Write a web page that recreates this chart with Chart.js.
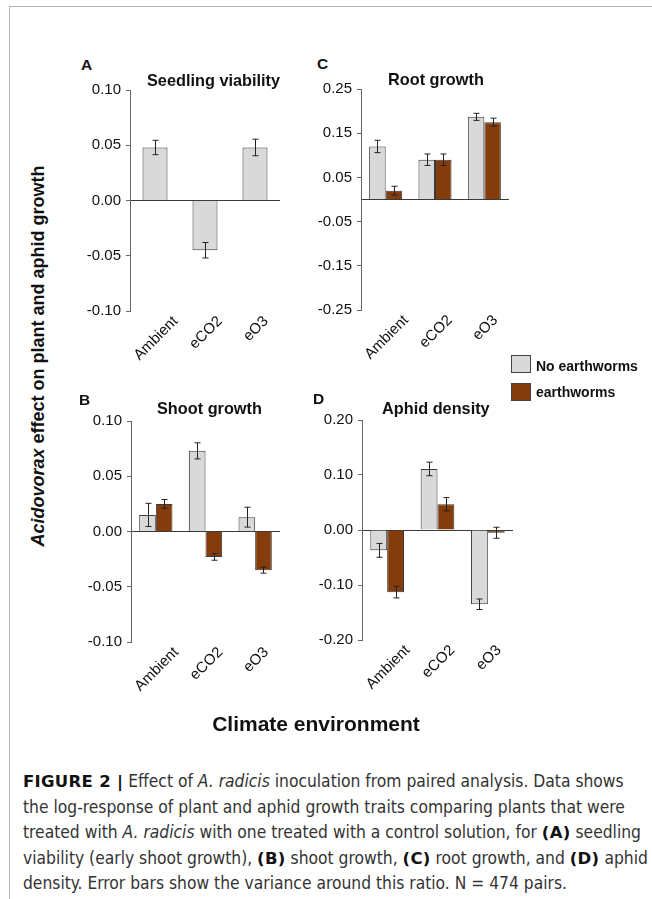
<!DOCTYPE html>
<html>
<head>
<meta charset="utf-8">
<script src="https://cdn.jsdelivr.net/npm/chart.js@4.4.0/dist/chart.umd.min.js"></script>
<style>
body{margin:0;width:652px;height:899px;position:relative;background:#fff;overflow:hidden;
  font-family:"Liberation Sans",Arial,sans-serif;color:#111}
.frame{position:absolute;left:9px;top:6px;width:700px;height:950px;border-left:1.5px solid #b4b4b4;border-top:1.5px solid #b4b4b4}
canvas{position:absolute}
.t{position:absolute;font-weight:bold;white-space:nowrap;line-height:1}
.box{position:absolute;width:18px;height:16px;border:1px solid #444}
.cap{position:absolute;left:23px;top:769px;font-family:"DejaVu Sans Condensed","Liberation Sans",sans-serif;
  font-size:17.3px;line-height:25.5px;color:#333;white-space:nowrap}
.cap b{font-family:"DejaVu Sans",sans-serif;font-size:16.5px;color:#111;letter-spacing:0.3px}
</style>
</head>
<body>
<div class="frame"></div>

<canvas id="cA"></canvas>
<canvas id="cB"></canvas>
<canvas id="cC"></canvas>
<canvas id="cD"></canvas>

<div class="t" style="left:81px;top:57px;font-size:15.5px">A</div>
<div class="t" style="left:317px;top:56px;font-size:15.5px">C</div>
<div class="t" style="left:79px;top:392px;font-size:15.5px">B</div>
<div class="t" style="left:313px;top:391px;font-size:15.5px">D</div>

<div class="t" style="left:147px;top:72px;font-size:16.3px">Seedling viability</div>
<div class="t" style="left:388px;top:71px;font-size:16.3px">Root growth</div>
<div class="t" style="left:157px;top:400px;font-size:16.3px">Shoot growth</div>
<div class="t" style="left:382px;top:400px;font-size:16.3px">Aphid density</div>

<div class="box" style="left:511px;top:355px;background:#d9d9d9"></div>
<div class="t" style="left:536px;top:359px;font-size:14px">No earthworms</div>
<div class="box" style="left:511px;top:383px;background:#843c0c"></div>
<div class="t" style="left:536px;top:385px;font-size:14px">earthworms</div>

<div class="t" style="left:38px;top:356px;font-size:18px;transform:translate(-50%,-50%) rotate(-90deg)"><i>Acidovorax</i> effect on plant and aphid growth</div>
<div class="t" style="left:316px;top:723px;font-size:21px;transform:translate(-50%,-50%)">Climate environment</div>

<div class="cap">
<b>FIGURE 2 |</b> Effect of <i>A. radicis</i> inoculation from paired analysis. Data shows<br>
the log-response of plant and aphid growth traits comparing plants that were<br>
treated with <i>A. radicis</i> with one treated with a control solution, for <b>(A)</b> seedling<br>
viability (early shoot growth), <b>(B)</b> shoot growth, <b>(C)</b> root growth, and <b>(D)</b> aphid<br>
density. Error bars show the variance around this ratio. N = 474 pairs.
</div>

<script>
// categories and values
const categories = ["Ambient", "eCO2", "eO3"];

const seedlingNoWorm = [0.048, -0.045, 0.048];
const seedlingNoWormErr = [0.0065, 0.007, 0.0075];

const shootNoWorm = [0.015, 0.073, 0.013];
const shootNoWormErr = [0.0105, 0.0073, 0.009];
const shootWorm = [0.025, -0.023, -0.035];
const shootWormErr = [0.004, 0.003, 0.0027];

const rootNoWorm = [0.12, 0.09, 0.187];
const rootNoWormErr = [0.014, 0.013, 0.008];
const rootWorm = [0.02, 0.09, 0.175];
const rootWormErr = [0.01, 0.013, 0.009];

const aphidNoWorm = [-0.037, 0.111, -0.135];
const aphidNoWormErr = [0.0126, 0.0123, 0.0096];
const aphidWorm = [-0.113, 0.047, -0.005];
const aphidWormErr = [0.0105, 0.012, 0.01];

const ticksA = [-0.10, -0.05, 0, 0.05, 0.10];
const ticksB = [-0.10, -0.05, 0, 0.05, 0.10];
const ticksC = [-0.25, -0.15, -0.05, 0.05, 0.15, 0.25];
const ticksD = [-0.20, -0.10, 0, 0.10, 0.20];

const GREY = "#d9d9d9", BROWN = "#843c0c", EDGE = "#3a3a3a";
const FONT = '"Liberation Sans", Arial, sans-serif';

const errorBars = {
  id: "errorBars",
  afterDatasetsDraw(chart) {
    const ctx = chart.ctx, ys = chart.scales.y;
    ctx.save();
    ctx.strokeStyle = "#222"; ctx.lineWidth = 1;
    chart.data.datasets.forEach((ds, di) => {
      chart.getDatasetMeta(di).data.forEach((bar, i) => {
        const v = ds.data[i], e = ds.err[i];
        const x = Math.round(bar.x) + 0.5;
        const y1 = ys.getPixelForValue(v + e), y2 = ys.getPixelForValue(v - e);
        ctx.beginPath();
        ctx.moveTo(x, y1); ctx.lineTo(x, y2);
        ctx.moveTo(x - 3, y1); ctx.lineTo(x + 3, y1);
        ctx.moveTo(x - 3, y2); ctx.lineTo(x + 3, y2);
        ctx.stroke();
      });
    });
    ctx.restore();
  }
};

// category labels at 45 degrees, centred on the category like the original
const slantLabels = {
  id: "slantLabels",
  afterDraw(chart) {
    const ctx = chart.ctx, xs = chart.scales.x, area = chart.chartArea;
    ctx.save();
    ctx.font = "15px " + FONT; ctx.fillStyle = "#111";
    ctx.textAlign = "center"; ctx.textBaseline = "middle";
    chart.data.labels.forEach((lab, i) => {
      const w = ctx.measureText(lab).width, h = 11;
      const x = xs.getPixelForTick(i) + 1, y = area.bottom + 4 + (w + h) * 0.3536;
      ctx.save();
      ctx.translate(x, y); ctx.rotate(-Math.PI / 4);
      ctx.fillText(lab, 0, 0);
      ctx.restore();
    });
    ctx.restore();
  }
};

function panel(id, area, ticks, sets) {
  const YW = 52, PT = 12, PR = 6, XH = 70;
  const cv = document.getElementById(id);
  const left = area[0] - YW, top = area[2] - PT;
  const w = area[1] - left + PR, h = area[3] + XH - top;
  cv.style.left = left + "px"; cv.style.top = top + "px";
  cv.style.width = w + "px"; cv.style.height = h + "px";
  cv.width = w; cv.height = h;
  const allTicks = ticks.includes(0) ? ticks : ticks.concat([0]).sort((a, b) => a - b);
  new Chart(cv, {
    type: "bar",
    data: {
      labels: categories,
      datasets: sets.map(s => ({
        data: s.data, err: s.err, backgroundColor: s.color,
        borderColor: EDGE, borderWidth: 1,
        categoryPercentage: sets.length > 1 ? 0.67 : 0.5, barPercentage: 1
      }))
    },
    options: {
      responsive: false, animation: false, devicePixelRatio: 1,
      layout: { padding: { top: PT, right: PR, left: 0, bottom: 0 } },
      plugins: { legend: { display: false }, tooltip: { enabled: false } },
      scales: {
        x: {
          grid: { display: false }, border: { display: false },
          ticks: { display: false },
          afterFit: s => { s.height = XH; }
        },
        y: {
          min: ticks[0], max: ticks[ticks.length - 1],
          afterFit: s => { s.width = YW; },
          afterBuildTicks: s => { s.ticks = allTicks.map(v => ({ value: v })); },
          ticks: {
            callback: v => ticks.includes(v) ? v.toFixed(2) : "",
            font: { size: 15, family: FONT }, color: "#111", padding: 5
          },
          grid: {
            color: c => (c.tick && c.tick.value === 0) ? EDGE : "transparent",
            tickColor: c => (c.tick && ticks.includes(c.tick.value)) ? "#666" : "transparent",
            tickLength: 4
          },
          border: { display: true, color: "#666", width: 1 }
        }
      }
    },
    plugins: [errorBars, slantLabels]
  });
}

panel("cA", [130, 280, 88, 311], ticksA, [
  { data: seedlingNoWorm, err: seedlingNoWormErr, color: GREY }
]);
panel("cC", [361, 509, 87, 310], ticksC, [
  { data: rootNoWorm, err: rootNoWormErr, color: GREY },
  { data: rootWorm, err: rootWormErr, color: BROWN }
]);
panel("cB", [131, 280, 419, 642], ticksB, [
  { data: shootNoWorm, err: shootNoWormErr, color: GREY },
  { data: shootWorm, err: shootWormErr, color: BROWN }
]);
panel("cD", [362, 513, 418, 640], ticksD, [
  { data: aphidNoWorm, err: aphidNoWormErr, color: GREY },
  { data: aphidWorm, err: aphidWormErr, color: BROWN }
]);
</script>
</body>
</html>
